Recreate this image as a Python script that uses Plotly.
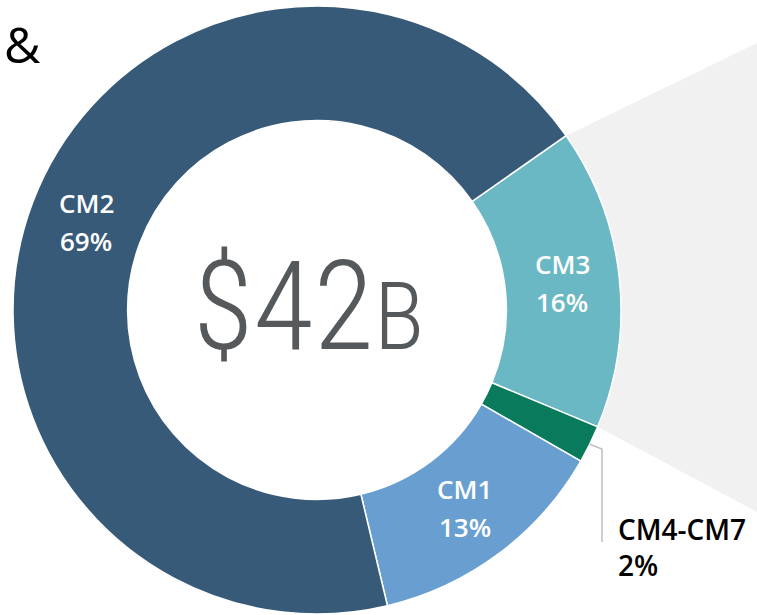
import math
import plotly.graph_objects as go

# Canvas
W, H = 757, 615

# Segment shares (%) as printed on the ring
segments = ["CM3", "CM4-CM7", "CM1", "CM2"]
shares = [16, 2, 13, 69]
colors = ["#6bb8c5", "#0a7a5c", "#699fd0", "#385a79"]

# Centre total
total_value = "$42"
total_unit = "B"

# Ring geometry in pixels
cx, cy, R = 317, 310, 304
hole = 0.623
rotation = 55  # clockwise degrees from 12 o'clock where CM3 starts


def px_to_paper(x, y):
    return x / W, 1 - y / H


def ring_point(angle_deg, radius):
    a = math.radians(angle_deg)
    return cx + radius * math.sin(a), cy - radius * math.cos(a)


# Slice start/end angles derived from the shares
total = sum(shares)
bounds = []
start = rotation
for s in shares:
    end = start + 360 * s / total
    bounds.append((start, end))
    start = end

fig = go.Figure()
fig.add_trace(go.Pie(
    labels=segments,
    values=shares,
    sort=False,
    direction="clockwise",
    rotation=rotation,
    hole=hole,
    marker=dict(colors=colors, line=dict(color="white", width=1.5)),
    textinfo="none",
    hoverinfo="skip",
    showlegend=False,
    domain=dict(x=[(cx - R) / W, (cx + R) / W],
                y=[1 - (cy + R) / H, 1 - (cy - R) / H]),
))

shapes = []

# Grey call-out fanning out from the CM3 slice
top_pt = px_to_paper(*ring_point(bounds[0][0], R))
bot_pt = px_to_paper(*ring_point(bounds[0][1], R))
shapes.append(dict(
    type="path", xref="paper", yref="paper", layer="below",
    path=(f"M {top_pt[0]},{top_pt[1]} L 1,{1 - 43 / H} "
          f"L 1,{1 - 512 / H} L {bot_pt[0]},{bot_pt[1]} Z"),
    fillcolor="#f1f1f1", line=dict(width=0),
))

# Leader line for the thin CM4-CM7 slice
g_mid = (bounds[1][0] + bounds[1][1]) / 2
p0 = px_to_paper(*ring_point(g_mid, R))
elbow_x = 602
p1 = px_to_paper(elbow_x, 449)
p2 = px_to_paper(elbow_x, 542)
shapes.append(dict(
    type="path", xref="paper", yref="paper", layer="above",
    path=f"M {p0[0]},{p0[1]} L {p1[0]},{p1[1]} L {p2[0]},{p2[1]}",
    line=dict(color="#bfbfbf", width=1.5),
))

annotations = []
label_font = dict(family="Open Sans, Segoe UI, sans-serif", size=26,
                  color="white", weight=600)
mid_r = R * (1 + hole) / 2
for i, name in enumerate(segments):
    if name == "CM4-CM7":
        continue
    a = (bounds[i][0] + bounds[i][1]) / 2
    lx, ly = ring_point(a, mid_r)
    for text, dy in ((name, -19), (f"{shares[i]}%", 19)):
        x, y = px_to_paper(lx, ly + dy)
        annotations.append(dict(
            x=x, y=y, xref="paper", yref="paper", text=text,
            showarrow=False, xanchor="center", yanchor="middle",
            font=label_font,
        ))

# Outside label for CM4-CM7
out_font = dict(family="Open Sans, Segoe UI, sans-serif", size=28,
                color="black", weight=600)
ox, oy = px_to_paper(616, 547)
annotations.append(dict(
    x=ox, y=oy, xref="paper", yref="paper",
    text=f"{segments[1]}<br>{shares[1]}%",
    showarrow=False, xanchor="left", yanchor="middle", align="left",
    font=out_font,
))

# Centre total
cxp, cyp = px_to_paper(308, 306)
annotations.append(dict(
    x=cxp, y=cyp, xref="paper", yref="paper",
    text=f"{total_value}<span style='font-size:94px'>{total_unit}</span>",
    showarrow=False, xanchor="center", yanchor="middle",
    font=dict(family="Roboto Condensed, Liberation Sans Narrow, DejaVu Sans Condensed, sans-serif",
              size=124, color="#55595b", weight=300),
))

# Trailing ampersand of the heading
ax, ay = px_to_paper(2, 44)
annotations.append(dict(
    x=ax, y=ay, xref="paper", yref="paper", text="&",
    showarrow=False, xanchor="left", yanchor="middle",
    font=dict(family="Open Sans, sans-serif", size=50, color="black"),
))

fig.update_layout(
    width=W, height=H,
    margin=dict(l=0, r=0, t=0, b=0),
    paper_bgcolor="white", plot_bgcolor="white",
    shapes=shapes, annotations=annotations,
)

fig.write_html("out.html")
